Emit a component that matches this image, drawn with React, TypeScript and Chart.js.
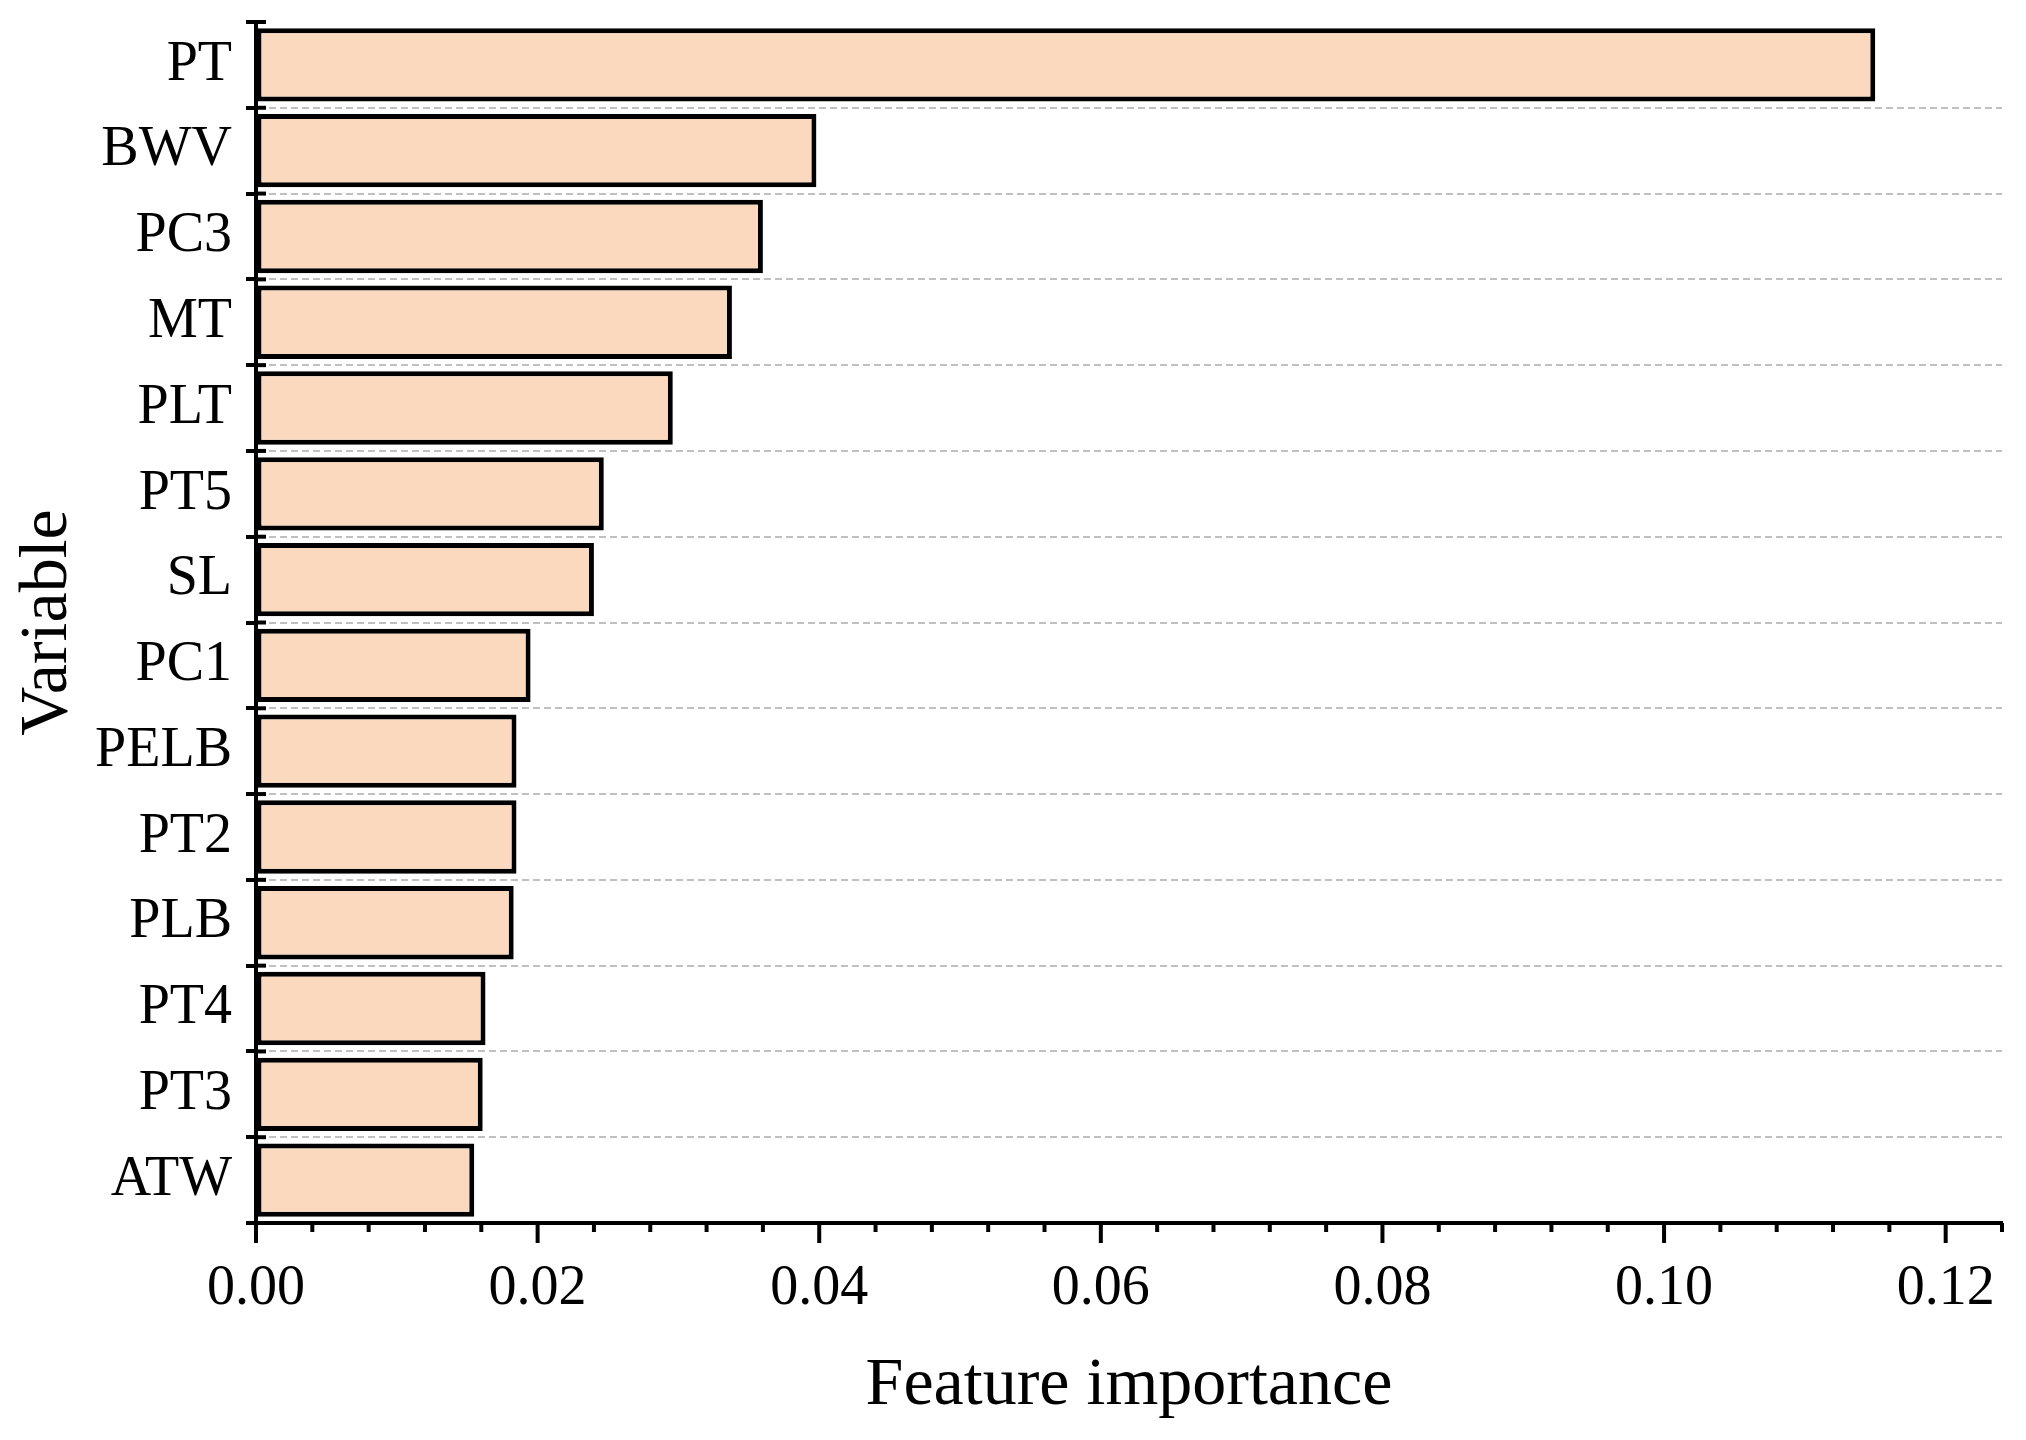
import React, { useEffect, useRef } from "react";
import { Chart, registerables } from "chart.js";

Chart.register(...registerables);

// ---- data ----
const categories = ["PT", "BWV", "PC3", "MT", "PLT", "PT5", "SL", "PC1", "PELB", "PT2", "PLB", "PT4", "PT3", "ATW"];
const importance = [0.115, 0.0398, 0.036, 0.0338, 0.0296, 0.0247, 0.024, 0.0195, 0.0185, 0.0185, 0.0183, 0.0163, 0.0161, 0.0155];
const xMin = 0;
const xMax = 0.124;
const xStep = 0.004;
const majorEvery = 5;
const xTitle = "Feature importance";
const yTitle = "Variable";

const FONT = "'Liberation Serif', 'Times New Roman', serif";

const tickPlugin = {
  id: "customTicks",
  afterDraw(chart: any) {
    const { ctx, chartArea, scales } = chart;
    const x = scales.x;
    const y = scales.y;
    ctx.save();
    ctx.strokeStyle = "#000";
    ctx.lineWidth = 4;
    ctx.lineCap = "butt";
    x.ticks.forEach((t: any, i: number) => {
      const px = x.getPixelForValue(t.value);
      const len = i % majorEvery === 0 ? 20 : 9;
      ctx.beginPath();
      ctx.moveTo(px, chartArea.bottom);
      ctx.lineTo(px, chartArea.bottom + len);
      ctx.stroke();
    });
    for (let i = 0; i <= categories.length; i++) {
      const py = y.getPixelForValue(i - 0.5);
      ctx.beginPath();
      ctx.moveTo(chartArea.left, py);
      ctx.lineTo(chartArea.left + 10, py);
      ctx.stroke();
    }
    ctx.restore();
  },
};

export default function App() {
  const ref = useRef<HTMLCanvasElement | null>(null);

  useEffect(() => {
    if (!ref.current) return;
    const chart = new Chart(ref.current, {
      type: "bar",
      data: {
        labels: categories,
        datasets: [
          {
            data: importance,
            backgroundColor: "#FAD9BE",
            borderColor: "#000000",
            borderWidth: 5,
            borderSkipped: false,
            barPercentage: 0.855,
            categoryPercentage: 1,
          },
        ],
      },
      options: {
        indexAxis: "y",
        responsive: false,
        animation: false,
        devicePixelRatio: 1,
        layout: { padding: { top: 22, right: 24, left: 0, bottom: 0 } },
        plugins: { legend: { display: false }, tooltip: { enabled: false } },
        scales: {
          x: {
            type: "linear",
            position: "bottom",
            min: xMin,
            max: xMax,
            ticks: {
              stepSize: xStep,
              maxTicksLimit: 100,
              autoSkip: false,
              maxRotation: 0,
              minRotation: 0,
              padding: 33,
              color: "#000",
              font: { family: FONT, size: 56 },
              callback: (value: any, index: number) => (index % majorEvery === 0 ? Number(value).toFixed(2) : ""),
            },
            grid: { drawOnChartArea: false, drawTicks: false },
            border: { display: true, color: "#000", width: 4 },
            title: {
              display: true,
              text: xTitle,
              color: "#000",
              font: { family: FONT, size: 68 },
              padding: { top: 0, bottom: 13 },
            },
            afterFit: (scale: any) => {
              scale.height = 217;
              scale.paddingLeft = 0;
              scale.paddingRight = 0;
            },
          },
          y: {
            type: "category",
            position: "left",
            ticks: {
              autoSkip: false,
              padding: 14,
              color: "#000",
              font: { family: FONT, size: 56 },
            },
            grid: {
              offset: true,
              color: (ctx: any) =>
                ctx.index === 0 || ctx.index === categories.length ? "rgba(0,0,0,0)" : "#C0C0C0",
              lineWidth: 2,
              drawTicks: true,
              tickLength: 10,
              tickColor: "#000",
              tickWidth: 4,
              tickBorderDash: [],
            },
            border: { display: true, color: "#000", width: 4, dash: [7, 4] },
            title: {
              display: true,
              text: yTitle,
              color: "#000",
              font: { family: FONT, size: 68 },
              padding: { top: 7, bottom: 0 },
            },
            afterFit: (scale: any) => {
              scale.width = 256;
              scale.paddingTop = 0;
              scale.paddingBottom = 0;
            },
          },
        },
      } as any,
      plugins: [tickPlugin],
    });
    return () => chart.destroy();
  }, []);

  return (
    <div style={{ position: "absolute", left: 0, top: 0, width: 2026, height: 1440, background: "#fff" }}>
      <canvas ref={ref} width={2026} height={1440} style={{ display: "block", width: 2026, height: 1440 }} />
    </div>
  );
}
